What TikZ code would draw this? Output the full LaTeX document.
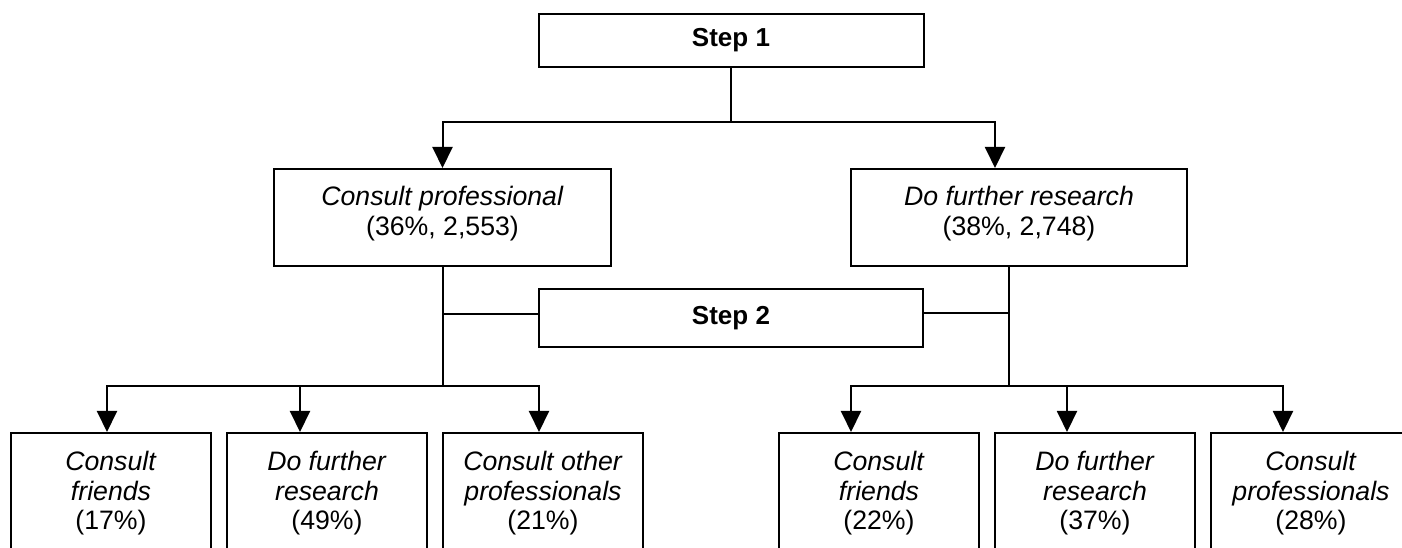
\documentclass[tikz,border=0pt]{standalone}
\usepackage{fontspec}
\setmainfont{Liberation Sans}
\usetikzlibrary{arrows.meta,calc}
\tikzset{
  box/.style={draw=black, line width=1.5pt, inner sep=0pt, fill=none},
  lbl/.style={inner sep=0pt, align=center, font=\fontsize{20}{22.1}\selectfont},
  steptxt/.style={font=\fontsize{19.5}{22}\selectfont\bfseries},
  conn/.style={line width=1.5pt},
  arr/.style={line width=1.5pt, -{Triangle[length=15.75pt,width=15pt]}}
}
\begin{document}
\begin{tikzpicture}[x=0.75pt,y=-0.75pt]
\useasboundingbox (0,0) rectangle (1402,548);
\fill[white] (0,0) rectangle (1402,548);
\clip (0,0) rectangle (1402,548);
% Step boxes
\node[box, minimum width=385*0.75pt, minimum height=53*0.75pt] (s1) at (731,40.5) {};
\node[steptxt] (s1t) at (s1.center) {Step 1};
\node[box, minimum width=384*0.75pt, minimum height=58*0.75pt] (s2) at (731,318) {};
\node[steptxt] (s2t) at (s2.center) {Step 2};
% Level 1 boxes
\node[box, minimum width=337*0.75pt, minimum height=97*0.75pt] (cp) at (442.5,217.5) {};
\node[lbl, anchor=north] (cpt) at ($(cp.north)+(0,18)$) {\textit{Consult professional}\\(36\%, 2,553)};
\node[box, minimum width=336*0.75pt, minimum height=97*0.75pt] (dr) at (1019,217.5) {};
\node[lbl, anchor=north] (drt) at ($(dr.north)+(0,18)$) {\textit{Do further research}\\(38\%, 2,748)};
% Level 2 boxes (extend below the picture)
\foreach \n/\x in {b1/111,b2/327,b3/543,b4/879,b5/1095,b6/1311}{
  \node[box, minimum width=200*0.75pt, minimum height=200*0.75pt] (\n) at (\x,533) {};
}
\node[lbl, anchor=north] (b1t) at ($(b1.north)+(0,19)$) {\textit{Consult}\\\textit{friends}\\(17\%)};
\node[lbl, anchor=north] (b2t) at ($(b2.north)+(0,19)$) {\textit{Do further}\\\textit{research}\\(49\%)};
\node[lbl, anchor=north] (b3t) at ($(b3.north)+(0,19)$) {\textit{Consult other}\\\textit{professionals}\\(21\%)};
\node[lbl, anchor=north] (b4t) at ($(b4.north)+(0,19)$) {\textit{Consult}\\\textit{friends}\\(22\%)};
\node[lbl, anchor=north] (b5t) at ($(b5.north)+(0,19)$) {\textit{Do further}\\\textit{research}\\(37\%)};
\node[lbl, anchor=north] (b6t) at ($(b6.north)+(0,19)$) {\textit{Consult}\\\textit{professionals}\\(28\%)};
% Junctions
\coordinate (j1) at (731,122);
\coordinate (jl) at (442.5,386);
\coordinate (jr) at (1009,386);
% Step 1 connectors
\draw[conn] (s1.south) -- (j1);
\draw[arr] (j1) -| (cp.north);
\draw[arr] (j1) -| ($(dr.north)+(-24,0)$);
% Step 2 connectors
\draw[conn] (cp.south) -- (jl);
\draw[conn] ($(s2.west)+(0,-4)$) -- ($(s2.west -| cp.south)+(0,-4)$);
\draw[conn] ($(dr.south)+(-10,0)$) -- (jr);
\draw[conn] ($(s2.east)+(0,-5)$) -- ($(s2.east -| jr)+(0,-5)$);
% Level 2 arrows
\draw[arr] (jl) -| ($(b1.north)+(-4,0)$);
\draw[arr] (jl) -| ($(b2.north)+(-27,0)$);
\draw[arr] (jl) -| ($(b3.north)+(-4,0)$);
\draw[arr] (jr) -| ($(b4.north)+(-28,0)$);
\draw[arr] (jr) -| ($(b5.north)+(-28,0)$);
\draw[arr] (jr) -| ($(b6.north)+(-28,0)$);
\end{tikzpicture}
\end{document}
